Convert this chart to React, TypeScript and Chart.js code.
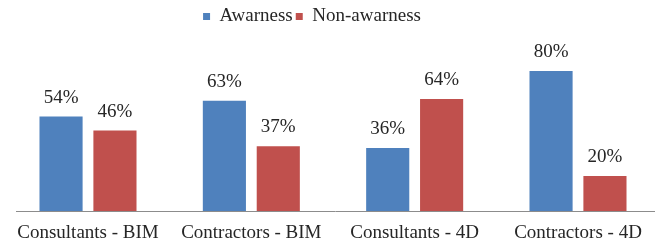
import { useEffect, useRef } from "react";
import { Chart, registerables } from "chart.js";

Chart.register(...registerables);

const CATEGORIES = [
  "Consultants - BIM",
  "Contractors - BIM",
  "Consultants - 4D",
  "Contractors - 4D",
];
const SERIES_NAMES = ["Awarness", "Non-awarness"];
const AWARENESS = [54, 63, 36, 80];
const NON_AWARENESS = [46, 37, 64, 20];

const FONT = "'Liberation Serif', 'Times New Roman', serif";
const TEXT_COLOR = "#262626";

const dataLabels = {
  id: "dataLabels",
  afterDatasetsDraw(chart: any) {
    const ctx = chart.ctx;
    ctx.save();
    ctx.font = `19px ${FONT}`;
    ctx.fillStyle = TEXT_COLOR;
    ctx.textAlign = "center";
    ctx.textBaseline = "alphabetic";
    chart.data.datasets.forEach((ds: any, di: number) => {
      chart.getDatasetMeta(di).data.forEach((bar: any, i: number) => {
        const v = ds.data[i].y;
        ctx.fillText(`${v}%`, bar.x, bar.y - 14);
      });
    });
    ctx.restore();
  },
};

// shifts the legend block slightly left, as in the reference
const legendShift = {
  id: "legendShift",
  afterLayout(chart: any) {
    const l = chart.legend;
    if (!l) return;
    l.left -= 23;
    l.right -= 23;
  },
};

export default function App() {
  const canvasRef = useRef<HTMLCanvasElement | null>(null);

  useEffect(() => {
    if (!canvasRef.current) return;
    const chart = new Chart(canvasRef.current, {
      type: "bar",
      data: {
        datasets: [
          {
            label: SERIES_NAMES[0],
            data: AWARENESS.map((v, i) => ({ x: i, y: v })),
            backgroundColor: "#4F81BD",
          },
          {
            label: SERIES_NAMES[1],
            data: NON_AWARENESS.map((v, i) => ({ x: i, y: v })),
            backgroundColor: "#C0504D",
          },
        ],
      },
      options: {
        animation: false,
        responsive: true,
        maintainAspectRatio: false,
        layout: { padding: { left: 16, right: 3, top: 4, bottom: 0 } },
        datasets: {
          bar: { categoryPercentage: 0.66, barPercentage: 0.8 },
        },
        plugins: {
          legend: {
            display: true,
            position: "top",
            align: "center",
            labels: {
              boxWidth: 7,
              boxHeight: 7,
              padding: 3,
              color: TEXT_COLOR,
              font: { family: FONT, size: 19 },
            },
          },
          tooltip: { enabled: false },
        },
        scales: {
          x: {
            type: "linear",
            min: -0.4408,
            max: 3.4653,
            offset: false,
            grid: { display: false, drawTicks: true, tickLength: 10 },
            border: { display: true, color: "#8c8c8c", width: 1 },
            afterBuildTicks: (scale: any) => {
              scale.ticks = CATEGORIES.map((_, i) => ({ value: i }));
            },
            ticks: {
              autoSkip: false,
              maxRotation: 0,
              minRotation: 0,
              padding: 2.5,
              color: TEXT_COLOR,
              font: { family: FONT, size: 19, lineHeight: 1 },
              callback: (value: any) => CATEGORIES[value as number] ?? "",
            },
          },
          y: {
            display: false,
            min: 0,
            max: 100,
          },
        },
      },
      plugins: [dataLabels, legendShift],
    });
    return () => chart.destroy();
  }, []);

  return (
    <div
      style={{
        position: "absolute",
        left: 0,
        top: 0,
        width: 657,
        height: 245,
        background: "#ffffff",
      }}
    >
      <canvas ref={canvasRef} />
    </div>
  );
}
